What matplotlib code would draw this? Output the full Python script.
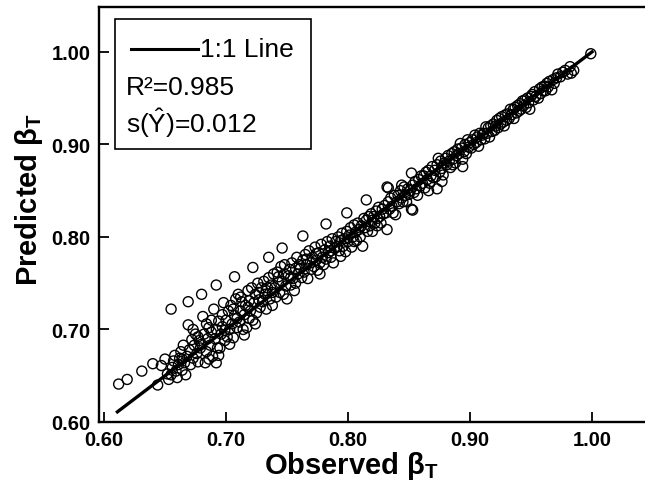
import matplotlib

matplotlib.use("Agg")
import matplotlib.pyplot as plt
from matplotlib.patches import Rectangle

plt.rcParams["font.family"] = ["Liberation Sans", "DejaVu Sans"]
plt.rcParams["mathtext.fontset"] = "custom"
plt.rcParams["mathtext.rm"] = "Liberation Sans"
plt.rcParams["mathtext.it"] = "Liberation Sans:italic"
plt.rcParams["mathtext.bf"] = "Liberation Sans:bold"

# observed / predicted beta_T
observed = [
    0.612, 0.619, 0.631, 0.640, 0.647, 0.644, 0.652, 0.650,
    0.653, 0.655, 0.656, 0.657, 0.658, 0.659, 0.655,
    0.660, 0.661, 0.662, 0.663, 0.664, 0.665, 0.666, 0.667, 0.668, 0.669, 0.669, 0.664,
    0.670, 0.671, 0.672, 0.673, 0.674, 0.675, 0.676, 0.677, 0.678, 0.679, 0.673, 0.677,
    0.680, 0.681, 0.683, 0.680, 0.682, 0.684, 0.685, 0.686, 0.687, 0.688, 0.689, 0.684, 0.686, 0.688,
    0.692, 0.692, 0.690, 0.691, 0.692, 0.693, 0.694, 0.695, 0.696, 0.697, 0.698, 0.699, 0.694, 0.697, 0.699,
    0.700, 0.701, 0.702, 0.703, 0.704, 0.705, 0.706, 0.707, 0.707, 0.708, 0.709, 0.710, 0.703, 0.706, 0.709,
    0.711, 0.712, 0.713, 0.714, 0.715, 0.716, 0.717, 0.718, 0.719, 0.712, 0.715, 0.718, 0.719,
    0.720, 0.721, 0.722, 0.722, 0.723, 0.724, 0.725, 0.726, 0.727, 0.728, 0.729, 0.724, 0.727,
    0.730, 0.731, 0.732, 0.733, 0.734, 0.735, 0.735, 0.736, 0.737, 0.738, 0.739, 0.733, 0.738,
    0.740, 0.741, 0.742, 0.743, 0.744, 0.745, 0.746, 0.746, 0.747, 0.748, 0.749, 0.750, 0.743, 0.748,
    0.751, 0.752, 0.753, 0.754, 0.755, 0.756, 0.757, 0.758, 0.759, 0.753, 0.757, 0.760,
    0.761, 0.762, 0.763, 0.763, 0.764, 0.765, 0.766, 0.767, 0.768, 0.769, 0.770, 0.766,
    0.771, 0.772, 0.773, 0.774, 0.775, 0.776, 0.777, 0.778, 0.779, 0.780, 0.774, 0.777,
    0.781, 0.782, 0.782, 0.783, 0.784, 0.785, 0.786, 0.787, 0.788, 0.789, 0.790, 0.786,
    0.791, 0.792, 0.793, 0.794, 0.795, 0.796, 0.797, 0.798, 0.799, 0.799, 0.800, 0.794,
    0.801, 0.802, 0.803, 0.804, 0.805, 0.806, 0.807, 0.808, 0.809, 0.810, 0.805,
    0.811, 0.812, 0.813, 0.814, 0.815, 0.815, 0.816, 0.817, 0.818, 0.819, 0.820, 0.820,
    0.821, 0.822, 0.823, 0.824, 0.825, 0.826, 0.827, 0.828, 0.829, 0.830, 0.824,
    0.831, 0.832, 0.832, 0.833, 0.834, 0.835, 0.836, 0.837, 0.838, 0.839, 0.840, 0.833,
    0.841, 0.842, 0.843, 0.844, 0.845, 0.846, 0.847, 0.848, 0.849, 0.850, 0.844,
    0.851, 0.852, 0.852, 0.853, 0.854, 0.855, 0.856, 0.857, 0.858, 0.859, 0.860, 0.853,
    0.861, 0.862, 0.863, 0.864, 0.865, 0.866, 0.867, 0.868, 0.869, 0.870, 0.866,
    0.871, 0.873, 0.874, 0.872, 0.873, 0.875, 0.876, 0.877, 0.878, 0.879, 0.880, 0.877,
    0.881, 0.882, 0.883, 0.884, 0.885, 0.886, 0.887, 0.888, 0.889, 0.890, 0.886,
    0.892, 0.894, 0.891, 0.893, 0.895, 0.896, 0.897, 0.898, 0.899, 0.900, 0.894,
    0.901, 0.902, 0.903, 0.904, 0.905, 0.906, 0.907, 0.908, 0.909, 0.910,
    0.911, 0.912, 0.913, 0.914, 0.915, 0.916, 0.917, 0.918, 0.919, 0.920,
    0.921, 0.922, 0.923, 0.924, 0.925, 0.926, 0.927, 0.928, 0.929, 0.930,
    0.931, 0.932, 0.933, 0.934, 0.9355, 0.936, 0.937, 0.938, 0.939, 0.940,
    0.941, 0.942, 0.943, 0.944, 0.945, 0.946, 0.947, 0.948, 0.949, 0.950,
    0.951, 0.952, 0.953, 0.954, 0.956, 0.957, 0.958, 0.959, 0.960,
    0.961, 0.962, 0.963, 0.964, 0.965, 0.967, 0.968, 0.969,
    0.971, 0.972, 0.974, 0.976, 0.978, 0.983, 0.980,
    0.982, 0.985, 0.999,
]
predicted = [
    0.641, 0.646, 0.655, 0.663, 0.661, 0.640, 0.652, 0.668,
    0.646, 0.651, 0.659, 0.666, 0.672, 0.655, 0.722,
    0.648, 0.662, 0.669, 0.676, 0.656, 0.683, 0.664, 0.651, 0.671, 0.705, 0.730, 0.668,
    0.678, 0.662, 0.689, 0.669, 0.683, 0.695, 0.674, 0.665, 0.688, 0.680, 0.700, 0.692,
    0.738, 0.714, 0.664, 0.684, 0.695, 0.676, 0.690, 0.702, 0.683, 0.697, 0.671, 0.706, 0.668, 0.710,
    0.748, 0.664, 0.722, 0.690, 0.700, 0.680, 0.709, 0.680, 0.695, 0.716, 0.729, 0.688, 0.672, 0.703, 0.699,
    0.710, 0.692, 0.720, 0.700, 0.726, 0.706, 0.691, 0.757, 0.715, 0.733, 0.702, 0.738, 0.684, 0.722, 0.712,
    0.708, 0.720, 0.730, 0.700, 0.716, 0.726, 0.702, 0.742, 0.712, 0.735, 0.694, 0.724, 0.731,
    0.720, 0.745, 0.767, 0.710, 0.729, 0.738, 0.718, 0.750, 0.732, 0.724, 0.745, 0.706, 0.740,
    0.730, 0.752, 0.738, 0.722, 0.745, 0.778, 0.756, 0.733, 0.748, 0.726, 0.760, 0.742, 0.740,
    0.745, 0.735, 0.762, 0.751, 0.740, 0.768, 0.788, 0.752, 0.738, 0.760, 0.747, 0.733, 0.757, 0.770,
    0.758, 0.765, 0.748, 0.772, 0.755, 0.742, 0.766, 0.778, 0.760, 0.756, 0.750, 0.770,
    0.766, 0.756, 0.801, 0.775, 0.762, 0.781, 0.770, 0.755, 0.785, 0.772, 0.765, 0.776,
    0.778, 0.768, 0.789, 0.775, 0.764, 0.783, 0.772, 0.792, 0.778, 0.770, 0.782, 0.760,
    0.786, 0.814, 0.776, 0.795, 0.783, 0.790, 0.778, 0.798, 0.772, 0.788, 0.795, 0.785,
    0.790, 0.800, 0.785, 0.796, 0.804, 0.790, 0.798, 0.784, 0.826, 0.806, 0.795, 0.779,
    0.802, 0.810, 0.789, 0.800, 0.813, 0.805, 0.796, 0.815, 0.808, 0.800, 0.795,
    0.812, 0.790, 0.820, 0.810, 0.840, 0.818, 0.806, 0.822, 0.812, 0.825, 0.806, 0.818,
    0.822, 0.815, 0.828, 0.820, 0.832, 0.822, 0.815, 0.830, 0.825, 0.834, 0.812,
    0.826, 0.854, 0.808, 0.838, 0.830, 0.842, 0.833, 0.826, 0.845, 0.824, 0.838, 0.853,
    0.845, 0.836, 0.850, 0.842, 0.838, 0.854, 0.845, 0.838, 0.852, 0.846, 0.856,
    0.850, 0.869, 0.830, 0.856, 0.848, 0.860, 0.852, 0.845, 0.862, 0.855, 0.866, 0.829,
    0.858, 0.866, 0.853, 0.870, 0.862, 0.872, 0.858, 0.866, 0.876, 0.864, 0.850,
    0.872, 0.852, 0.885, 0.865, 0.878, 0.870, 0.882, 0.874, 0.867, 0.880, 0.885, 0.860,
    0.878, 0.888, 0.882, 0.875, 0.890, 0.884, 0.892, 0.880, 0.888, 0.895, 0.878,
    0.901, 0.876, 0.890, 0.896, 0.892, 0.900, 0.890, 0.905, 0.897, 0.902, 0.884,
    0.896, 0.905, 0.900, 0.910, 0.902, 0.908, 0.898, 0.912, 0.905, 0.910,
    0.912, 0.906, 0.919, 0.912, 0.918, 0.908, 0.920, 0.914, 0.922, 0.915,
    0.920, 0.926, 0.918, 0.928, 0.922, 0.930, 0.924, 0.920, 0.932, 0.926,
    0.933, 0.928, 0.938, 0.932, 0.938, 0.928, 0.940, 0.934, 0.942, 0.936,
    0.944, 0.938, 0.947, 0.942, 0.948, 0.940, 0.950, 0.945, 0.938, 0.952,
    0.954, 0.948, 0.957, 0.952, 0.950, 0.960, 0.955, 0.962, 0.958,
    0.963, 0.958, 0.966, 0.962, 0.968, 0.959, 0.970, 0.966,
    0.972, 0.976, 0.973, 0.978, 0.980, 0.977, 0.976,
    0.984, 0.980, 0.998,
]

line_ends = [0.611, 1.0]
x_ticks = [0.60, 0.70, 0.80, 0.90, 1.00]
y_ticks = [0.60, 0.70, 0.80, 0.90, 1.00]
r_squared = 0.985
s_yhat = 0.012


def main():
    fig = plt.figure(figsize=(6.45, 4.85), dpi=100)
    ax = fig.add_axes([99 / 645, 62 / 485, 560 / 645, 415 / 485])

    ax.scatter(observed, predicted, s=52, facecolors="none", edgecolors="black",
               linewidths=1.0, zorder=2)
    ax.plot(line_ends, line_ends, color="black", linewidth=2.4, zorder=3)

    ax.set_xlim(0.5959, 1.0549)
    ax.set_ylim(0.60, 1.0485)
    ax.set_xticks(x_ticks)
    ax.set_yticks(y_ticks)
    ax.set_xticklabels([f"{v:.2f}" for v in x_ticks], fontweight="bold")
    ax.set_yticklabels([f"{v:.2f}" for v in y_ticks], fontweight="bold")
    ax.tick_params(direction="in", length=7, width=1.3, labelsize=14.5, pad=6)

    for side in ["left", "bottom", "top"]:
        ax.spines[side].set_linewidth(1.7)
    ax.spines["right"].set_visible(False)

    ax.set_xlabel(r"Observed β$_\mathbf{T}$", fontsize=21, fontweight="bold")
    ax.set_ylabel(r"Predicted β$_\mathbf{T}$", fontsize=21, fontweight="bold")
    ax.xaxis.set_label_coords((351 - 99) / 560, -(450 - 423) / 415)
    ax.yaxis.set_label_coords(-(99 - 45) / 560, (423 - 199) / 415)

    # legend-like box with the fit statistics
    trans = ax.transAxes
    box = Rectangle((16 / 560, (423 - 150) / 415), 196 / 560, 130 / 415,
                    transform=trans, fill=False, edgecolor="black", linewidth=1.2,
                    zorder=4)
    ax.add_patch(box)
    ax.plot([32 / 560, 99 / 560], [(423 - 50) / 415] * 2, transform=trans,
            color="black", linewidth=2.2, zorder=5)
    ax.text(101 / 560, (423 - 50) / 415, "1:1 Line", transform=trans,
            fontsize=19, va="center", ha="left", zorder=5)
    ax.text(27 / 560, (423 - 88) / 415, f"R²={r_squared:.3f}", transform=trans,
            fontsize=19, va="center", ha="left", zorder=5)
    ax.text(27 / 560, (423 - 123) / 415, r"s($\hat{\mathrm{Y}}$)=" + f"{s_yhat:.3f}",
            transform=trans, fontsize=19, va="center", ha="left", zorder=5)

    fig.savefig("out.png", dpi=100)


if __name__ == "__main__":
    main()
